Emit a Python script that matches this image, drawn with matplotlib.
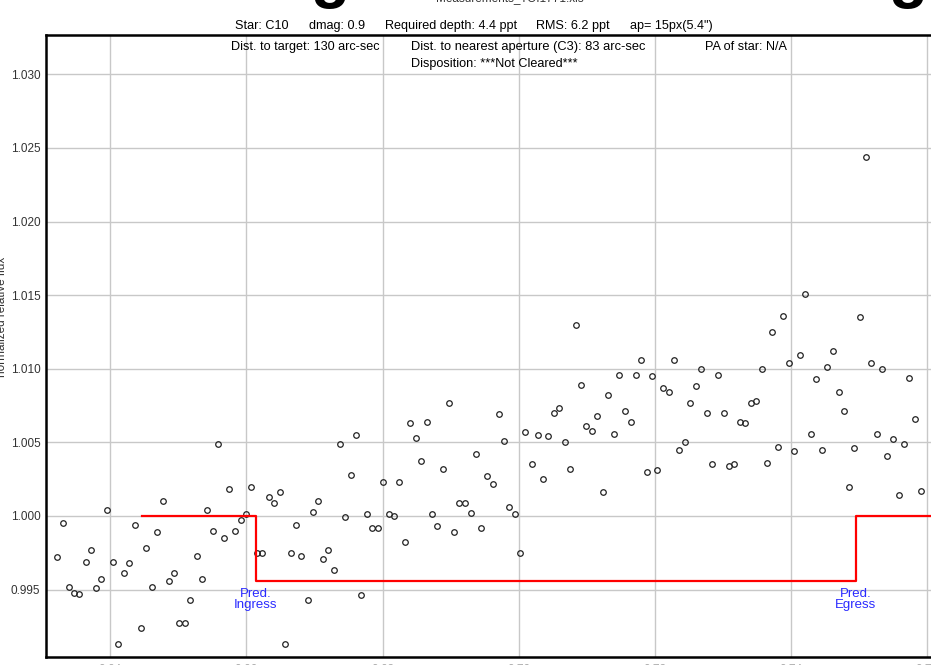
import matplotlib
matplotlib.use('Agg')
import matplotlib.pyplot as plt

plt.rcParams['font.family'] = ['Liberation Sans', 'DejaVu Sans']

# time (BJD_TDB - offset) and normalized relative flux of the comparison star
bjd = [
    0.6322, 0.6331, 0.6340, 0.6347, 0.6354, 0.6364, 0.6372, 0.6379, 0.6386, 0.6395,
    0.6404, 0.6411, 0.6420, 0.6428, 0.6436, 0.6445, 0.6453, 0.6461, 0.6469, 0.6478,
    0.6486, 0.6494, 0.6501, 0.6510, 0.6517, 0.6527, 0.6535, 0.6542, 0.6551, 0.6558,
    0.6567, 0.6574, 0.6583, 0.6592, 0.6599, 0.6607, 0.6616, 0.6623, 0.6633, 0.6641,
    0.6649, 0.6657, 0.6665, 0.6673, 0.6680, 0.6690, 0.6698, 0.6705, 0.6712, 0.6720,
    0.6729, 0.6737, 0.6745, 0.6754, 0.6761, 0.6768, 0.6777, 0.6784, 0.6793, 0.6800,
    0.6809, 0.6817, 0.6824, 0.6833, 0.6840, 0.6849, 0.6856, 0.6865, 0.6873, 0.6880,
    0.6889, 0.6897, 0.6905, 0.6912, 0.6921, 0.6930, 0.6937, 0.6944, 0.6953, 0.6962,
    0.6971, 0.6978, 0.6986, 0.6994, 0.7002, 0.7009, 0.7019, 0.7028, 0.7036, 0.7043,
    0.7052, 0.7059, 0.7068, 0.7075, 0.7084, 0.7091, 0.7099, 0.7107, 0.7115, 0.7124,
    0.7131, 0.7140, 0.7147, 0.7156, 0.7165, 0.7172, 0.7179, 0.7188, 0.7196, 0.7203,
    0.7212, 0.7221, 0.7228, 0.7235, 0.7244, 0.7251, 0.7260, 0.7268, 0.7276, 0.7284,
    0.7293, 0.7301, 0.7309, 0.7316, 0.7325, 0.7332, 0.7341, 0.7348, 0.7357, 0.7364,
    0.7372, 0.7381, 0.7388, 0.7397, 0.7404, 0.7413, 0.7420, 0.7429, 0.7436, 0.7445,
    0.7453, 0.7461, 0.7470, 0.7478, 0.7485, 0.7492, 0.7501, 0.7510, 0.7517, 0.7526,
    0.7533, 0.7541, 0.7549, 0.7558, 0.7566, 0.7573, 0.7582, 0.7591,
]
rel_flux = [
    0.9972, 0.9995, 0.9952, 0.9948, 0.9947, 0.9969, 0.9977, 0.9951, 0.9957, 1.0004,
    0.9969, 0.9913, 0.9961, 0.9968, 0.9994, 0.9924, 0.9978, 0.9952, 0.9989, 1.0010,
    0.9956, 0.9961, 0.9927, 0.9927, 0.9943, 0.9973, 0.9957, 1.0004, 0.9990, 1.0049,
    0.9985, 1.0018, 0.9990, 0.9997, 1.0001, 1.0020, 0.9975, 0.9975, 1.0013, 1.0009,
    1.0016, 0.9913, 0.9975, 0.9994, 0.9973, 0.9943, 1.0003, 1.0010, 0.9971, 0.9977,
    0.9963, 1.0049, 0.9999, 1.0028, 1.0055, 0.9946, 1.0001, 0.9992, 0.9992, 1.0023,
    1.0001, 1.0000, 1.0023, 0.9982, 1.0063, 1.0053, 1.0037, 1.0064, 1.0001, 0.9993,
    1.0032, 1.0077, 0.9989, 1.0009, 1.0009, 1.0002, 1.0042, 0.9992, 1.0027, 1.0022,
    1.0069, 1.0051, 1.0006, 1.0001, 0.9975, 1.0057, 1.0035, 1.0055, 1.0025, 1.0054,
    1.0070, 1.0073, 1.0050, 1.0032, 1.0130, 1.0089, 1.0061, 1.0058, 1.0068, 1.0016,
    1.0082, 1.0056, 1.0096, 1.0071, 1.0064, 1.0096, 1.0106, 1.0030, 1.0095, 1.0031,
    1.0087, 1.0084, 1.0106, 1.0045, 1.0050, 1.0077, 1.0088, 1.0100, 1.0070, 1.0035,
    1.0096, 1.0070, 1.0034, 1.0035, 1.0064, 1.0063, 1.0077, 1.0078, 1.0100, 1.0036,
    1.0125, 1.0047, 1.0136, 1.0104, 1.0044, 1.0109, 1.0151, 1.0056, 1.0093, 1.0045,
    1.0101, 1.0112, 1.0084, 1.0071, 1.0020, 1.0046, 1.0135, 1.0244, 1.0104, 1.0056,
    1.0100, 1.0041, 1.0052, 1.0014, 1.0049, 1.0094, 1.0066, 1.0017,
]

# predicted transit box model
model_t = [0.6447, 0.6614, 0.6614, 0.7495, 0.7495, 0.7800]
model_f = [1.0000, 1.0000, 0.9956, 0.9956, 1.0000, 1.0000]
t_ingress = 0.6614
t_egress = 0.7495

xticks = [0.64, 0.66, 0.68, 0.70, 0.72, 0.74, 0.76]
yticks = [0.995, 1.000, 1.005, 1.010, 1.015, 1.020, 1.025, 1.030]

W, H = 931, 665
fig = plt.figure(figsize=(W / 100, H / 100), dpi=100)
ax = fig.add_axes([46 / W, 8 / H, 954 / W, 622 / H])

ax.plot(bjd, rel_flux, 'o', ms=4, mfc='none', mec='#222222', mew=0.9, zorder=3)
ax.plot(model_t, model_f, color='red', lw=1.6, zorder=4)

ax.set_xlim(0.63057, 0.77066)
ax.set_ylim(0.99042, 1.03267)
ax.set_xticks(xticks)
ax.set_yticks(yticks)
ax.set_xticklabels(['%.2f' % t for t in xticks])
ax.set_yticklabels(['%.3f' % f for f in yticks])
ax.grid(True, color='#c8c8c8', lw=1.0, zorder=0)
ax.tick_params(length=0, labelsize=8.5, colors='#333333')
ax.tick_params(axis='x', pad=5, colors='#aaaaaa')
ax.tick_params(axis='y', pad=4)
for side in ['left', 'bottom', 'top']:
    ax.spines[side].set_linewidth(1.8)
    ax.spines[side].set_color('black')

for t, name in [(t_ingress, 'Pred.\nIngress'), (t_egress, 'Pred.\nEgress')]:
    ax.text(t, 0.99514, name, color='#2a2aff', fontsize=9.5, ha='center', va='top',
            linespacing=0.9, zorder=5)

# header lines
fig.text(330 / W, 1 - (-4) / H, 'g', fontsize=46, fontweight='bold', ha='center',
         va='baseline', color='black')
fig.text(908 / W, 1 - (-4) / H, 'g', fontsize=46, fontweight='bold', ha='center',
         va='baseline', color='black')
fig.text(510 / W, 1 - 1 / H, 'Measurements_TOI1771.xls', fontsize=8.5, ha='center',
         va='baseline', color='#333333')

header = [(235, 'Star: C10'), (309, 'dmag: 0.9'), (385, 'Required depth: 4.4 ppt'),
          (536, 'RMS: 6.2 ppt'), (630, 'ap= 15px(5.4")')]
for px, s in header:
    fig.text(px / W, 1 - 29 / H, s, fontsize=9.1, ha='left', va='baseline')

info = [(231, 50, 'Dist. to target: 130 arc-sec', 9.1),
        (411, 50, 'Dist. to nearest aperture (C3): 83 arc-sec', 9.3),
        (705, 50, 'PA of star: N/A', 9.1),
        (411, 67, 'Disposition: ***Not Cleared***', 9.1)]
for px, py, s, fs in info:
    fig.text(px / W, 1 - py / H, s, fontsize=fs, ha='left', va='baseline')

fig.text(-4 / W, 348 / H, 'normalized relative flux', fontsize=8.5, rotation=90,
         ha='left', va='center', color='#333333')

fig.savefig('out.png', dpi=100)
